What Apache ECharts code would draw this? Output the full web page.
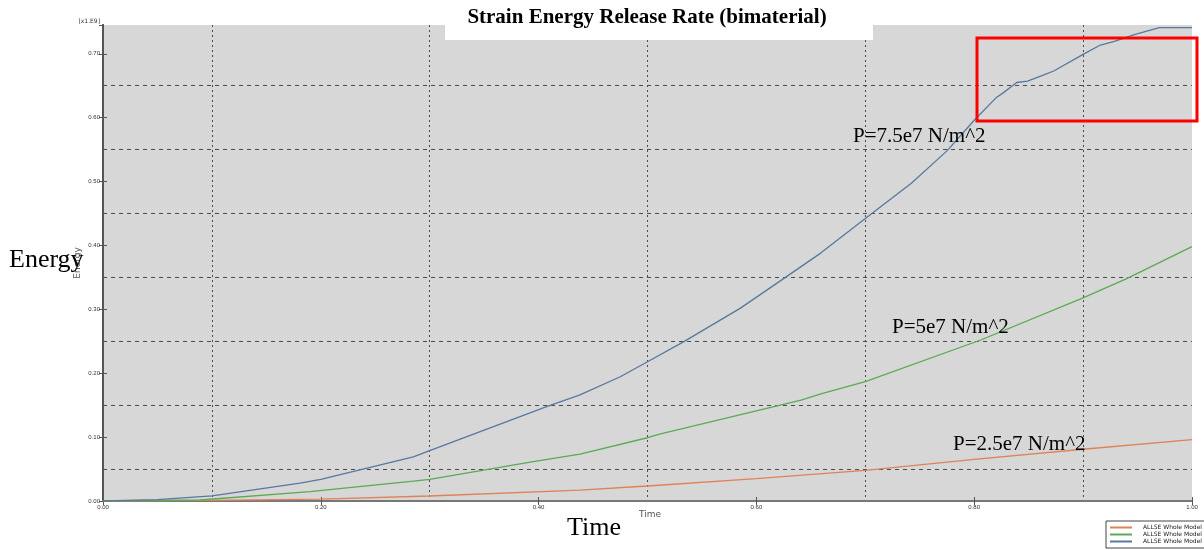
<!DOCTYPE html>
<html>
<head>
<meta charset="utf-8">
<script src="https://cdn.jsdelivr.net/npm/echarts@6/dist/echarts.min.js"></script>
<style>
  body { margin: 0; background: #fff; }
  #chart { width: 1204px; height: 550px; }
</style>
</head>
<body>
<div id="chart"></div>
<script>
// values, energy in units of 1e9
const xTicks = [0, 0.2, 0.4, 0.6, 0.8, 1.0];
const yTicks = [0, 0.1, 0.2, 0.3, 0.4, 0.5, 0.6, 0.7];

const timeLow = [0, 0.1, 0.2, 0.3, 0.438, 0.5, 0.6, 0.7, 0.8, 0.9, 1.0];
const energyLow = [0, 0.001, 0.003, 0.0078, 0.017, 0.0235, 0.035, 0.048, 0.065, 0.081, 0.096];

const timeMid = [0, 0.089, 0.19, 0.285, 0.3, 0.395, 0.438, 0.5, 0.512, 0.641, 0.66, 0.7, 0.806, 0.9, 0.94, 1.0];
const energyMid = [0, 0.0016, 0.0146, 0.031, 0.034, 0.0615, 0.0735, 0.099, 0.105, 0.158, 0.168, 0.187, 0.252, 0.318, 0.348, 0.398];

const timeHigh = [0, 0.05, 0.1, 0.181, 0.2, 0.285, 0.3, 0.408, 0.438, 0.475, 0.5, 0.533, 0.585, 0.625, 0.659, 0.7, 0.742, 0.775, 0.8, 0.82, 0.826, 0.839, 0.849, 0.864, 0.873, 0.9, 0.915, 0.928, 0.947, 0.97, 1.0];
const energyHigh = [0, 0.002, 0.008, 0.028, 0.034, 0.069, 0.079, 0.148, 0.166, 0.1945, 0.218, 0.249, 0.3015, 0.348, 0.388, 0.442, 0.497, 0.548, 0.596, 0.631, 0.638, 0.655, 0.657, 0.667, 0.673, 0.699, 0.713, 0.719, 0.730, 0.741, 0.741];

const seriesNames = ['ALLSE Whole Model 1', 'ALLSE Whole Model 2', 'ALLSE Whole Model 3'];
const labels = ['P=2.5e7 N/m^2', 'P=5e7 N/m^2', 'P=7.5e7 N/m^2'];

const pairs = (xs, ys) => xs.map((x, i) => [x, ys[i]]);

const chart = echarts.init(document.getElementById('chart'));

const serif = '"Liberation Serif", "DejaVu Serif", serif';
const gridColor = '#4a4a4a';

const option = {
  animation: false,
  backgroundColor: '#fff',
  grid: { left: 103, right: 12, top: 25, bottom: 49, show: true, backgroundColor: '#d7d7d7', borderWidth: 0 },
  legend: {
    left: 1106, top: 521, orient: 'vertical', itemGap: 0,
    itemWidth: 22, itemHeight: 2, icon: 'rect',
    padding: [3, 4, 3, 4],
    borderColor: '#444', borderWidth: 1,
    formatter: () => 'ALLSE Whole Model',
    textStyle: { fontSize: 6, lineHeight: 7, color: '#222', fontFamily: 'DejaVu Sans', padding: [0, 0, 0, 6] },
    data: seriesNames
  },
  xAxis: [
    {
      type: 'value', min: 0, max: 1, interval: 0.2, position: 'bottom',
      axisLine: { lineStyle: { color: '#555', width: 2 } },
      axisTick: { inside: true, length: 4, lineStyle: { color: '#555' } },
      axisLabel: { fontSize: 6, color: '#333', margin: 3, formatter: v => v.toFixed(2) },
      splitLine: { show: false }
    },
    {
      type: 'value', min: 0, max: 1, interval: 0.2, position: 'top',
      axisLine: { lineStyle: { color: '#777', width: 2 } },
      axisTick: { inside: true, length: 4, lineStyle: { color: '#555' } },
      axisLabel: { show: false },
      splitLine: { show: false }
    },
    {
      type: 'value', min: 0, max: 1, interval: 0.1, position: 'bottom',
      axisLine: { show: false }, axisTick: { show: false }, axisLabel: { show: false },
      splitLine: { show: true, showMinLine: false, showMaxLine: false, lineStyle: { color: [gridColor, 'transparent'], type: [2, 3], width: 1 } }
    }
  ],
  yAxis: [
    {
      type: 'value', min: 0, max: 0.745, interval: 0.1, position: 'left',
      axisLine: { show: true, lineStyle: { color: '#555', width: 2 } },
      axisTick: { show: true, inside: true, length: 4, lineStyle: { color: '#555' } },
      axisLabel: { fontSize: 6, color: '#333', margin: 3, showMaxLabel: false, formatter: v => v.toFixed(2) },
      splitLine: { show: false }
    },
    {
      type: 'value', min: 0, max: 0.745, interval: 0.1, position: 'right',
      axisLine: { show: true, lineStyle: { color: '#555', width: 2 } },
      axisTick: { show: true, inside: true, length: 4, lineStyle: { color: '#555' } },
      axisLabel: { show: false },
      splitLine: { show: false }
    },
    {
      type: 'value', min: 0, max: 0.745, interval: 0.05, position: 'left',
      axisLine: { show: false }, axisTick: { show: false }, axisLabel: { show: false },
      splitLine: { show: true, showMinLine: false, showMaxLine: false, lineStyle: { color: [gridColor, 'transparent'], type: [4, 4], width: 1 } }
    }
  ],
  series: [
    { name: seriesNames[0], type: 'line', data: pairs(timeLow, energyLow), showSymbol: false, color: '#de8258', lineStyle: { width: 1.3 } },
    { name: seriesNames[1], type: 'line', data: pairs(timeMid, energyMid), showSymbol: false, color: '#5aab52', lineStyle: { width: 1.3 } },
    { name: seriesNames[2], type: 'line', data: pairs(timeHigh, energyHigh), showSymbol: false, color: '#58789e', lineStyle: { width: 1.3 } }
  ],
  graphic: [
    { type: 'rect', z: 100, shape: { x: 445, y: 0, width: 428, height: 40 }, style: { fill: '#fff' } },
    { type: 'text', z: 101, x: 647, y: 18, style: { text: 'Strain Energy Release Rate (bimaterial)', font: 'bold 21px ' + serif, fill: '#000', textAlign: 'center', textVerticalAlign: 'middle' } },
    { type: 'text', z: 100, x: 100, y: 21, style: { text: '[x1.E9]', font: '6px "DejaVu Sans"', fill: '#333', textAlign: 'right', textVerticalAlign: 'middle' } },
    { type: 'text', z: 100, x: 78, y: 263, rotation: Math.PI / 2, style: { text: 'Energy', font: '9px "DejaVu Sans"', fill: '#555', textAlign: 'center', textVerticalAlign: 'middle' } },
    { type: 'text', z: 101, x: 9, y: 260, style: { text: 'Energy', font: '26px ' + serif, fill: '#000', textVerticalAlign: 'middle' } },
    { type: 'text', z: 100, x: 650, y: 515, style: { text: 'Time', font: '9px "DejaVu Sans"', fill: '#555', textAlign: 'center', textVerticalAlign: 'middle' } },
    { type: 'text', z: 101, x: 567, y: 528, style: { text: 'Time', font: '26px ' + serif, fill: '#000', textVerticalAlign: 'middle' } },
    { type: 'text', z: 101, x: 953, y: 444, style: { text: labels[0], font: '21px ' + serif, fill: '#000', textVerticalAlign: 'middle' } },
    { type: 'text', z: 101, x: 892, y: 327, style: { text: labels[1], font: '21px ' + serif, fill: '#000', textVerticalAlign: 'middle' } },
    { type: 'text', z: 101, x: 853, y: 136, style: { text: labels[2], font: '21px ' + serif, fill: '#000', textVerticalAlign: 'middle' } },
    { type: 'rect', z: 102, shape: { x: 977, y: 38, width: 220, height: 83 }, style: { fill: 'none', stroke: '#ff0000', lineWidth: 3 } }
  ]
};

chart.setOption(option);
</script>
</body>
</html>
